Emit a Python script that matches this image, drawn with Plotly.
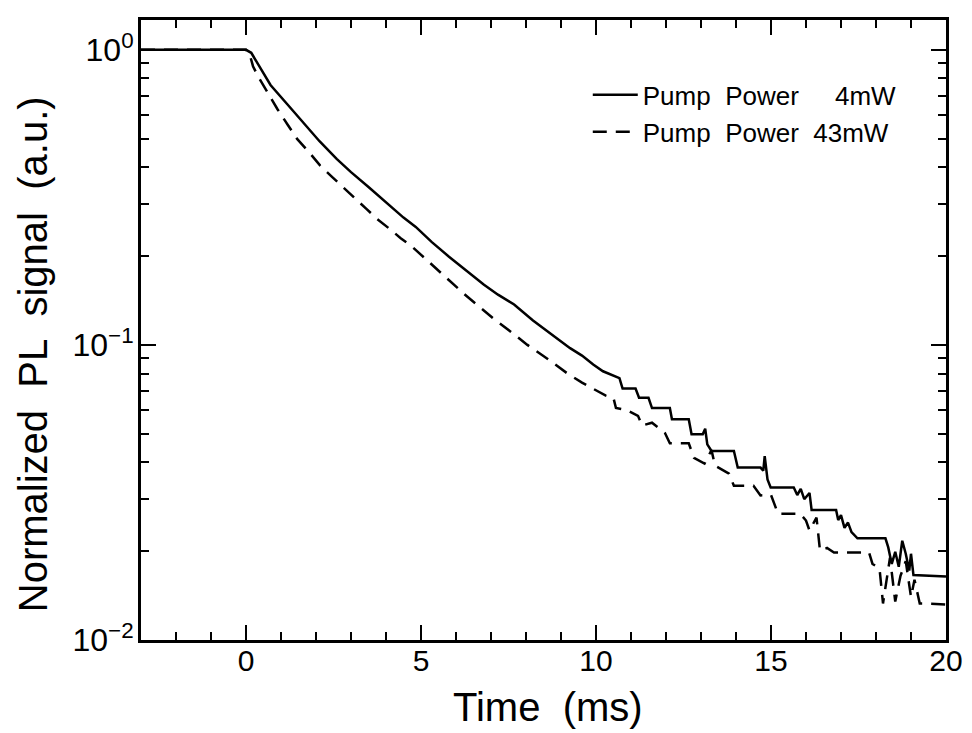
import plotly.graph_objects as go

# Time axis (ms) and normalized PL for 4 mW pump (solid)
t_4mw = [-3.0, 0.0, 0.15, 0.4, 0.7, 1.18, 1.6, 2.1, 2.59, 3.0, 3.5, 4.0, 4.5, 4.85, 5.31,
         5.8, 6.3, 6.8, 7.2, 7.66, 8.2, 8.7, 9.26, 9.6, 9.92, 10.2, 10.67, 10.76, 11.13,
         11.23, 11.5, 11.6, 12.11, 12.17, 12.65, 12.73, 13.05, 13.12, 13.18, 13.3, 13.94,
         14.05, 14.7, 14.78, 14.82, 14.9, 14.99, 15.65, 15.75, 15.85, 15.95, 16.1, 16.16,
         16.86, 16.92, 17.0, 17.1, 17.2, 17.3, 17.47, 18.27, 18.35, 18.45, 18.55, 18.65,
         18.75, 18.85, 18.95, 19.0, 19.07, 20.0]
pl_4mw = [1.0, 1.0, 0.977, 0.87, 0.76, 0.654, 0.575, 0.49, 0.427, 0.385, 0.343, 0.305, 0.270,
          0.251, 0.223, 0.199, 0.178, 0.160, 0.148, 0.137, 0.121, 0.109, 0.0975, 0.092,
          0.0858, 0.0814, 0.0772, 0.0711, 0.0711, 0.0662, 0.0662, 0.0611, 0.0611, 0.0560,
          0.0560, 0.0498, 0.0498, 0.052, 0.046, 0.0437, 0.0437, 0.0384, 0.0384, 0.0375,
          0.042, 0.035, 0.0329, 0.0329, 0.031, 0.0325, 0.030, 0.0315, 0.0276, 0.0276,
          0.0255, 0.0265, 0.024, 0.025, 0.0232, 0.0221, 0.0221, 0.0206, 0.0181, 0.0199,
          0.0177, 0.0217, 0.0196, 0.0172, 0.0196, 0.0166, 0.0164]

# Normalized PL for 43 mW pump (dashed)
t_43mw = [-3.0, 0.0, 0.1, 0.2, 0.34, 0.6, 0.9, 1.2, 1.46, 1.8, 2.12, 2.45, 2.78, 3.1, 3.44,
          3.75, 4.09, 4.42, 4.75, 5.2, 5.7, 6.2, 6.72, 7.1, 7.6, 8.04, 8.6, 9.16, 9.6, 9.92,
          10.28, 10.5, 10.57, 10.9, 11.2, 11.32, 11.6, 11.97, 12.11, 12.65, 12.8, 13.1, 13.3,
          13.4, 13.8, 13.94, 14.5, 14.7, 15.0, 15.2, 15.83, 16.0, 16.1, 16.3, 16.4, 16.6,
          16.8, 17.2, 17.8, 17.9, 18.1, 18.2, 18.3, 18.4, 18.55, 18.7, 18.85, 19.0, 19.1,
          19.25, 19.35, 20.0]
pl_43mw = [1.0, 1.0, 0.97, 0.88, 0.815, 0.72, 0.629, 0.555, 0.499, 0.45, 0.405, 0.372, 0.343,
           0.315, 0.289, 0.267, 0.248, 0.23, 0.215, 0.192, 0.170, 0.150, 0.133, 0.122, 0.110,
           0.100, 0.090, 0.0804, 0.0745, 0.0708, 0.0673, 0.066, 0.0611, 0.060, 0.0575,
           0.0533, 0.0545, 0.0503, 0.0464, 0.0464, 0.0414, 0.0396, 0.044, 0.039, 0.0366,
           0.0333, 0.0333, 0.0309, 0.031, 0.0268, 0.0268, 0.0254, 0.0235, 0.026, 0.0201,
           0.0205, 0.0198, 0.0198, 0.0198, 0.0181, 0.0175, 0.0133, 0.016, 0.019, 0.0135,
           0.0165, 0.0185, 0.014, 0.016, 0.0133, 0.0133, 0.0132]

x_ticks = [0, 5, 10, 15, 20]
x_ticktext = ["0", "5", "10", "15", "20"]
y_ticks = [0.01, 0.1, 1]
y_ticktext = ["10<sup>\u22122</sup>", "10<sup>\u22121</sup>", "10<sup>0</sup>"]
y_minor = [0.02, 0.03, 0.04, 0.05, 0.06, 0.07, 0.08, 0.09,
           0.2, 0.3, 0.4, 0.5, 0.6, 0.7, 0.8, 0.9]

font = "Liberation Sans, Arial, sans-serif"

fig = go.Figure()
fig.add_trace(go.Scatter(x=t_4mw, y=pl_4mw, mode="lines",
                         name="Pump\u00a0\u00a0Power\u00a0\u00a0\u00a0\u00a0\u00a04mW",
                         line=dict(color="black", width=2.5)))
fig.add_trace(go.Scatter(x=t_43mw, y=pl_43mw, mode="lines",
                         name="Pump\u00a0\u00a0Power\u00a0\u00a043mW",
                         line=dict(color="black", width=2.5, dash="14px,9px")))

# the page body adds an 8px margin, so the figure is sized to fit the 972x733 window
fig.update_layout(
    width=964, height=725,
    paper_bgcolor="white", plot_bgcolor="white",
    margin=dict(l=133, r=13, t=9, b=93),
    font=dict(family=font, color="black"),
    showlegend=True,
    legend=dict(x=0.555, y=0.917, xanchor="left", yanchor="top",
                bgcolor="rgba(0,0,0,0)", font=dict(size=26, family=font),
                tracegroupgap=0, itemwidth=45),
    xaxis=dict(range=[-3, 20], tickvals=x_ticks, ticktext=x_ticktext,
               ticks="inside", ticklen=15, tickwidth=2, tickcolor="black",
               showline=True, linewidth=3, linecolor="black", mirror="allticks",
               showgrid=False, zeroline=False, ticklabeloverflow="allow",
               ticklabelstandoff=-8,
               tickfont=dict(size=30, family=font),
               minor=dict(ticks="inside", ticklen=8, tickwidth=2, tickcolor="black",
                          dtick=1, tick0=0, showgrid=False)),
    yaxis=dict(type="log", range=[-2, 0.101], tickvals=y_ticks, ticktext=y_ticktext,
               ticks="inside", ticklen=15, tickwidth=2, tickcolor="black",
               showline=True, linewidth=3, linecolor="black", mirror="allticks",
               showgrid=False, zeroline=False, ticklabelstandoff=-2,
               tickfont=dict(size=32, family=font),
               minor=dict(ticks="inside", ticklen=8, tickwidth=2, tickcolor="black",
                          tickvals=y_minor, showgrid=False)),
    annotations=[
        dict(text="Time\u00a0\u00a0(ms)", xref="paper", yref="paper",
             x=0.5, y=0, xanchor="center", yanchor="middle", yshift=-67, xshift=4,
             showarrow=False, font=dict(size=40, family=font)),
        dict(text="Normalized\u00a0\u00a0PL\u00a0\u00a0signal\u00a0\u00a0(a.u.)",
             xref="paper", yref="paper", x=0, y=0.461, xanchor="center", yanchor="middle",
             xshift=-108, textangle=-90, showarrow=False, font=dict(size=40, family=font)),
    ],
)

fig.write_html("out.html")
